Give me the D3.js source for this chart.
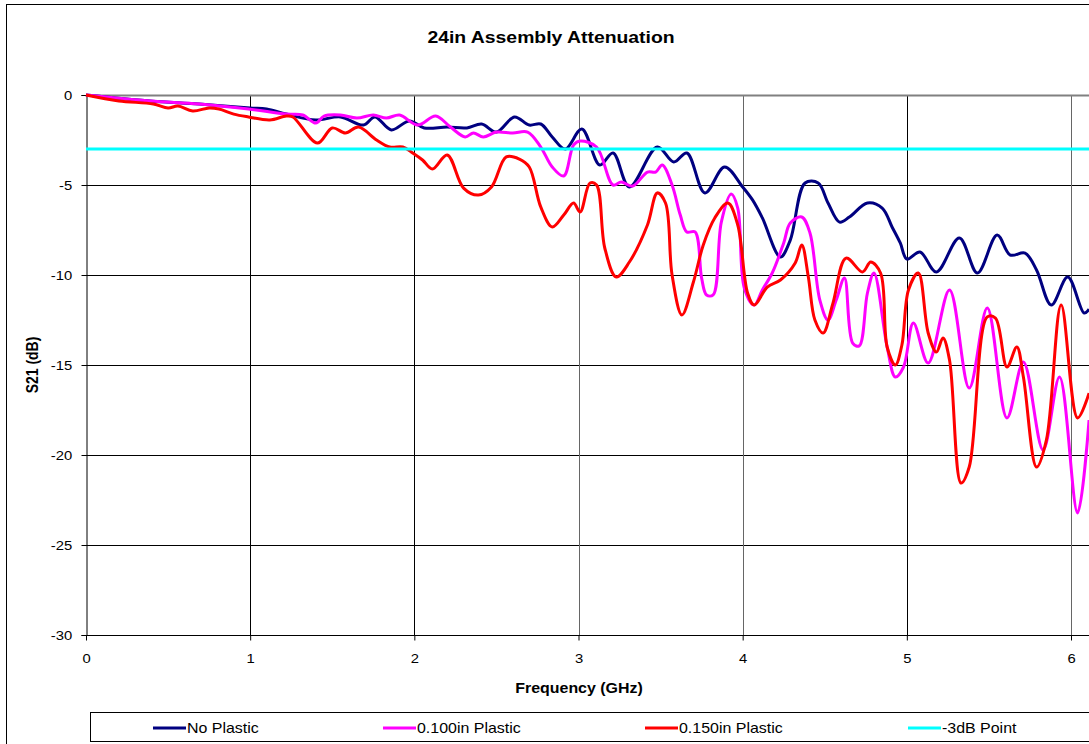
<!DOCTYPE html>
<html>
<head>
<meta charset="utf-8">
<script src="https://cdn.jsdelivr.net/npm/d3@7/dist/d3.min.js"></script>
<style>
  html, body { margin: 0; padding: 0; background: #fff; }
  svg { display: block; }
  text { font-family: "Liberation Sans", Arial, sans-serif; }
</style>
</head>
<body>
<svg id="chart" width="1089" height="744"></svg>
<script>
// ---- Data (frequency GHz, S21 dB) ----
const chartTitle = "24in Assembly Attenuation";
const xTitle = "Frequency (GHz)";
const yTitle = "S21 (dB)";
const xTicks = [0, 1, 2, 3, 4, 5, 6];
const yTicks = [0, -5, -10, -15, -20, -25, -30];
const seriesNames = ["No Plastic", "0.100in Plastic", "0.150in Plastic", "-3dB Point"];
const seriesColors = ["#000080", "#FF00FF", "#FF0000", "#00FFFF"];

const noPlastic = [
  [0,0],[0.39,-0.33],[0.69,-0.5],[1.0,-0.72],[1.1,-0.78],[1.22,-1.06],[1.40,-1.39],[1.55,-1.22],
  [1.69,-1.67],[1.76,-1.22],[1.86,-1.94],[1.97,-1.44],[2.06,-1.83],[2.20,-1.78],[2.32,-1.83],
  [2.41,-1.61],[2.50,-2.06],[2.61,-1.22],[2.70,-1.67],[2.77,-1.61],[2.84,-2.33],[2.92,-3.0],
  [3.02,-1.89],[3.13,-3.89],[3.21,-3.22],[3.31,-5.11],[3.48,-2.89],[3.58,-3.72],[3.66,-3.22],
  [3.77,-5.44],[3.89,-4.0],[4.0,-5.11],[4.06,-5.83],[4.12,-6.83],[4.23,-9.0],[4.29,-8.06],
  [4.38,-4.89],[4.46,-4.89],[4.52,-6.0],[4.59,-7.06],[4.65,-6.78],[4.76,-6.0],[4.85,-6.28],
  [4.91,-7.33],[4.96,-8.22],[5.0,-9.11],[5.08,-8.72],[5.18,-9.83],[5.32,-7.94],[5.43,-9.89],
  [5.55,-7.78],[5.63,-8.89],[5.72,-8.78],[5.79,-9.72],[5.88,-11.67],[5.98,-10.11],[6.08,-12.11],
  [6.11,-11.9]
];
const plastic100 = [
  [0,0],[0.39,-0.33],[0.69,-0.5],[0.99,-0.78],[1.22,-1.06],[1.32,-1.11],[1.40,-1.56],[1.45,-1.17],
  [1.55,-1.11],[1.65,-1.28],[1.75,-1.11],[1.83,-1.28],[1.91,-1.11],[2.02,-1.67],[2.13,-1.17],
  [2.22,-1.78],[2.31,-2.33],[2.36,-2.11],[2.42,-2.33],[2.50,-2.06],[2.60,-2.11],[2.69,-2.06],
  [2.77,-2.89],[2.84,-4.0],[2.91,-4.5],[2.97,-2.78],[3.01,-2.56],[3.11,-2.89],[3.21,-5.0],
  [3.26,-4.83],[3.33,-5.06],[3.42,-4.28],[3.47,-4.28],[3.51,-3.89],[3.57,-5.0],[3.62,-6.67],
  [3.66,-7.61],[3.71,-7.61],[3.75,-10.17],[3.78,-11.11],[3.82,-11.11],[3.87,-7.06],[3.93,-5.5],
  [3.97,-6.28],[4.01,-10.72],[4.07,-11.67],[4.12,-10.83],[4.18,-9.89],[4.25,-8.22],[4.29,-7.11],
  [4.36,-6.78],[4.41,-7.67],[4.47,-11.39],[4.52,-12.5],[4.57,-11.39],[4.62,-10.17],[4.67,-13.78],
  [4.71,-13.94],[4.76,-11.0],[4.80,-9.89],[4.88,-14.0],[4.93,-15.67],[4.98,-15.11],[5.04,-12.67],
  [5.13,-14.89],[5.26,-10.83],[5.38,-16.28],[5.49,-11.83],[5.61,-17.94],[5.71,-14.83],
  [5.83,-19.72],[5.93,-15.67],[6.04,-23.22],[6.11,-18.06]
];
const plastic150 = [
  [0,0],[0.2,-0.33],[0.41,-0.5],[0.5,-0.72],[0.56,-0.61],[0.65,-0.89],[0.75,-0.72],[0.81,-0.78],
  [0.9,-1.06],[0.99,-1.22],[1.12,-1.39],[1.22,-1.17],[1.26,-1.22],[1.41,-2.67],[1.50,-1.83],
  [1.58,-2.11],[1.66,-1.78],[1.77,-2.5],[1.85,-2.89],[1.93,-2.89],[1.99,-3.22],[2.05,-3.61],
  [2.11,-4.11],[2.2,-3.33],[2.3,-5.17],[2.39,-5.56],[2.47,-5.11],[2.56,-3.44],[2.64,-3.56],
  [2.70,-4.0],[2.77,-6.22],[2.84,-7.33],[2.91,-6.67],[2.97,-6.0],[3.01,-6.5],[3.07,-4.89],
  [3.11,-5.0],[3.16,-8.5],[3.23,-10.11],[3.31,-9.28],[3.42,-7.22],[3.48,-5.44],[3.53,-6.0],
  [3.57,-10.0],[3.63,-12.22],[3.70,-10.39],[3.76,-8.33],[3.83,-6.83],[3.91,-6.0],[3.97,-7.22],
  [4.03,-11.0],[4.07,-11.67],[4.15,-10.67],[4.23,-10.28],[4.32,-9.33],[4.36,-8.33],[4.40,-10.11],
  [4.44,-12.5],[4.49,-13.22],[4.55,-11.56],[4.63,-9.06],[4.73,-9.83],[4.78,-9.28],[4.84,-9.89],
  [4.88,-14.0],[4.93,-15.0],[4.97,-13.89],[5.01,-10.83],[5.07,-9.89],[5.13,-13.22],[5.18,-14.28],
  [5.22,-13.5],[5.26,-14.72],[5.33,-21.56],[5.38,-20.67],[5.49,-12.33],[5.54,-12.39],
  [5.61,-15.11],[5.67,-14.0],[5.71,-15.67],[5.79,-20.67],[5.85,-19.17],[5.94,-11.67],
  [6.04,-17.94],[6.11,-16.56]
];
const point3dB = [[0,-3],[6.12,-3]];

// ---- Layout ----
const svg = d3.select("#chart");
const W = 1089, H = 744;
const plot = { left: 86, top: 95, right: 1071, bottom: 635 };
const SX = 1.14; // horizontal stretch of text seen in the reference

const x = d3.scaleLinear().domain([0, 6]).range([plot.left, plot.right]);
const y = d3.scaleLinear().domain([-30, 0]).range([plot.bottom, plot.top]);

function stretchedText(parent, tx, ty, str, size, bold, anchor) {
  return parent.append("text")
    .attr("transform", `translate(${tx},${ty}) scale(${SX},1)`)
    .attr("text-anchor", anchor || "middle")
    .attr("font-size", size)
    .attr("font-weight", bold ? "bold" : "normal")
    .text(str);
}

// outer chart border
svg.append("rect").attr("x", 6.5).attr("y", 4.5).attr("width", W + 20).attr("height", H + 20)
  .attr("fill", "#fff").attr("stroke", "#000").attr("stroke-width", 1);

// title
stretchedText(svg, 551, 43, chartTitle, 17, true);

// horizontal gridlines
svg.append("g").selectAll("line").data(yTicks.filter(d => d !== 0 && d !== -30)).join("line")
  .attr("x1", plot.left).attr("x2", W + 5)
  .attr("y1", d => Math.round(y(d)) + 0.5).attr("y2", d => Math.round(y(d)) + 0.5)
  .attr("stroke", "#000").attr("stroke-width", 1);

// vertical gridlines
svg.append("g").selectAll("line").data(xTicks.filter(d => d !== 0)).join("line")
  .attr("x1", d => Math.round(x(d)) + 0.5).attr("x2", d => Math.round(x(d)) + 0.5)
  .attr("y1", plot.top).attr("y2", plot.bottom)
  .attr("stroke", d => (d === 3 || d === 4 || d === 6) ? "#666" : "#000").attr("stroke-width", 1);

// plot-area top border (gray)
svg.append("line").attr("x1", plot.left).attr("x2", W + 5)
  .attr("y1", plot.top + 0.5).attr("y2", plot.top + 0.5)
  .attr("stroke", "#808080").attr("stroke-width", 2);

// axes
const fmt = d => String(d);
const yAxis = d3.axisLeft(y).tickValues(yTicks).tickSize(5).tickPadding(7.5).tickFormat(fmt);
const gy = svg.append("g").attr("transform", `translate(${plot.left + 0.5},0)`).call(yAxis);
gy.select(".domain").attr("stroke", "#000");
gy.selectAll(".tick line").attr("stroke", "#000");
gy.selectAll(".tick text").attr("font-size", 13).attr("fill", "#000")
  .attr("font-family", "Liberation Sans, Arial, sans-serif")
  .attr("transform", `scale(${SX},1)`);

const xAxis = d3.axisBottom(x).tickValues(xTicks).tickSize(5).tickPadding(13).tickFormat(fmt);
const gx = svg.append("g").attr("transform", `translate(0,${plot.bottom + 0.5})`).call(xAxis);
gx.select(".domain").attr("stroke", "#000").attr("d", `M${plot.left},0H${W + 5}`);
gx.selectAll(".tick line").attr("stroke", "#000");
gx.selectAll(".tick text").attr("font-size", 13).attr("fill", "#000")
  .attr("font-family", "Liberation Sans, Arial, sans-serif")
  .attr("transform", `scale(${SX},1)`);

// axis titles
stretchedText(svg, 579, 693, xTitle, 14, true);
svg.append("text").attr("transform", `translate(38,365) rotate(-90) scale(1,${SX})`)
  .attr("text-anchor", "middle").attr("font-size", 14).attr("font-weight", "bold").text(yTitle);

// clip
svg.append("clipPath").attr("id", "clip").append("rect")
  .attr("x", plot.left - 2).attr("y", plot.top - 3).attr("width", W - plot.left + 10).attr("height", plot.bottom - plot.top + 4);

const line = d3.line().x(d => x(d[0])).y(d => y(d[1])).curve(d3.curveCatmullRom.alpha(0.5));
const allSeries = [noPlastic, plastic100, plastic150, point3dB];

const gLines = svg.append("g").attr("clip-path", "url(#clip)");
gLines.selectAll("path").data(allSeries).join("path")
  .attr("d", d => line(d))
  .attr("fill", "none")
  .attr("stroke", (d, i) => seriesColors[i])
  .attr("stroke-width", 3)
  .attr("stroke-linejoin", "round");

// legend
const legend = svg.append("g");
legend.append("rect").attr("x", 90.5).attr("y", 712.5).attr("width", W).attr("height", 29)
  .attr("fill", "#fff").attr("stroke", "#000").attr("stroke-width", 1);
const legendX = [153, 383, 645, 908];
const items = legend.selectAll("g.item").data(seriesNames).join("g").attr("class", "item")
  .attr("transform", (d, i) => `translate(${legendX[i]},728)`);
items.append("line").attr("x1", 0).attr("x2", 33).attr("y1", 0).attr("y2", 0)
  .attr("stroke", (d, i) => seriesColors[i]).attr("stroke-width", 3);
items.append("text").attr("transform", `translate(34,5) scale(${SX},1)`)
  .attr("font-size", 14).text(d => d);
</script>
</body>
</html>
